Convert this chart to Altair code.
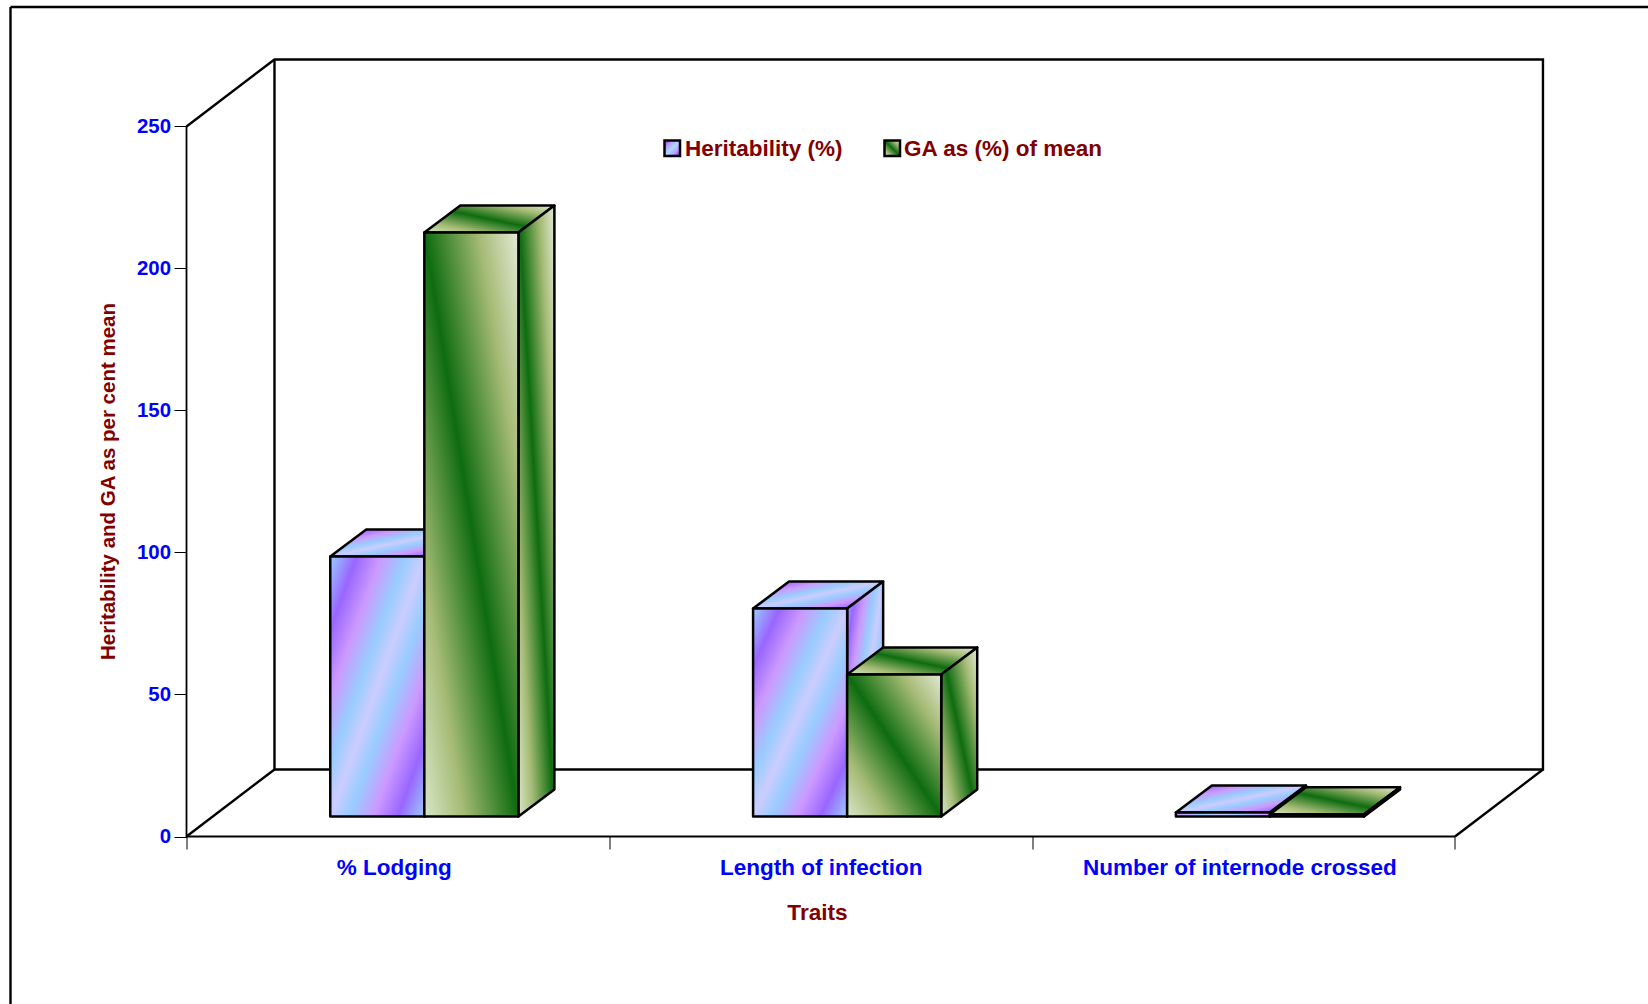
import altair as alt
import pandas as pd

# Chart values
categories = ["% Lodging", "Length of infection", "Number of internode crossed"]
heritability = [91.5, 73.2, 1.4]
ga_percent = [205.6, 50.0, 0.8]
y_ticks = [0, 50, 100, 150, 200, 250]
x_ticks = [0, 0.49, 1, 1.5, 2, 2.49, 3]
label_positions = [0.49, 1.5, 2.49]
series_names = ["Heritability (%)", "GA as (%) of mean"]

# Oblique projection, in axis units (categories across, percent up)
WALL_DX, WALL_DY = 0.2081, 23.6
BAR_DX, BAR_DY = 0.0851, 9.5
BAR_SHIFT, BAR_LIFT = 0.0625, 7.07
BAR_WIDTH = 0.2225

FONT = "Liberation Sans"
MAROON = "#800000"
BLUE = "#0000ff"

GREEN_STOPS = [
    alt.GradientStop(offset=0, color="#d8e6c8"),
    alt.GradientStop(offset=0.21, color="#a6bb76"),
    alt.GradientStop(offset=0.5, color="#0e6c10"),
    alt.GradientStop(offset=0.79, color="#a6bb76"),
    alt.GradientStop(offset=1, color="#e2ead6"),
]
PURPLE_STOPS = [
    alt.GradientStop(offset=0, color="#99ccff"),
    alt.GradientStop(offset=0.14, color="#9966ff"),
    alt.GradientStop(offset=0.27, color="#cc99ff"),
    alt.GradientStop(offset=0.4, color="#99ccff"),
    alt.GradientStop(offset=0.5, color="#ccccff"),
    alt.GradientStop(offset=0.6, color="#99ccff"),
    alt.GradientStop(offset=0.73, color="#cc99ff"),
    alt.GradientStop(offset=0.86, color="#9966ff"),
    alt.GradientStop(offset=1, color="#99ccff"),
]
green_fill = alt.Gradient(gradient="linear", x1=0, y1=1, x2=1, y2=0, stops=GREEN_STOPS)
purple_fill = alt.Gradient(gradient="linear", x1=0, y1=0, x2=1, y2=1, stops=PURPLE_STOPS)

x_scale = alt.Scale(domain=[0, 3.2082], nice=False, zero=False)
y_scale = alt.Scale(domain=[0, 273.76], nice=False, zero=False)

# Real axes carry the ticks, tick labels and titles
label_expr = " : ".join(
    f"datum.value === {p} ? '{c}'" for p, c in zip(label_positions, categories)
) + " : ''"
x_axis = alt.Axis(
    values=x_ticks, title="Traits", domain=False, grid=False,
    tickColor="black", tickSize=12.5, tickWidth=1,
    tickOpacity={"condition": {"test": "datum.value % 1 === 0", "value": 1}, "value": 0},
    labelExpr=label_expr, labelFont=FONT, labelFontSize=22.5, labelFontWeight="bold",
    labelColor=BLUE, labelPadding=7, labelOverlap=False, labelBound=False, labelFlush=False,
    labelLimit=600,
    titleFont=FONT, titleFontSize=22.6, titleFontWeight="bold", titleColor=MAROON,
    titleX=630.5, titleY=75.5, titleBaseline="middle",
)
y_axis = alt.Axis(
    values=y_ticks, title="Heritability and GA as per cent mean", domain=False, grid=False,
    tickColor="black", tickSize=12.5, tickWidth=1,
    labelFont=FONT, labelFontSize=20.4, labelFontWeight="bold", labelColor=BLUE,
    labelPadding=3.5, labelOverlap=False, labelBound=False, labelFlush=False,
    titleFont=FONT, titleFontSize=20.5, titleFontWeight="bold", titleColor=MAROON,
    titleX=-78.5, titleY=422, titleBaseline="middle", titleLimit=600,
)


def qx(field="x"):
    return alt.X(field, type="quantitative", scale=x_scale, axis=x_axis)


def qy(field="y"):
    return alt.Y(field, type="quantitative", scale=y_scale, axis=y_axis)


# Frame of the box: left wall, back wall and floor
frame_paths = [
    [(0, 250), (WALL_DX, 250 + WALL_DY), (3 + WALL_DX, 250 + WALL_DY), (3 + WALL_DX, WALL_DY),
     (WALL_DX, WALL_DY), (WALL_DX, 250 + WALL_DY)],
    [(0, 0), (WALL_DX, WALL_DY)],
    [(3, 0), (3 + WALL_DX, WALL_DY)],
]
frame_rows = [
    {"path": i, "step": j, "x": px, "y": py}
    for i, path in enumerate(frame_paths)
    for j, (px, py) in enumerate(path)
]
frame = alt.Chart(pd.DataFrame(frame_rows)).mark_line(color="black", strokeWidth=2.4).encode(
    x=qx(), y=qy(), detail="path:N", order="step:Q"
)
front_rows = [
    {"path": 0, "step": 0, "x": 0, "y": 250},
    {"path": 0, "step": 1, "x": 0, "y": 0},
    {"path": 0, "step": 2, "x": 3, "y": 0},
]
front_edges = alt.Chart(pd.DataFrame(front_rows)).mark_line(color="black", strokeWidth=1.8).encode(
    x=qx(), y=qy(), detail="path:N", order="step:Q"
)


def bar_faces(values, series_index, fill):
    """Top, side and front faces of one series of oblique bars."""
    top_rows, side_rows, front = [], [], []
    for cat, value in enumerate(values):
        left = cat + 0.5 + BAR_SHIFT + (series_index - 1) * BAR_WIDTH
        right = left + BAR_WIDTH
        top = BAR_LIFT + value
        top_rows += [
            {"bar": cat, "y": top, "x": left, "x2": right},
            {"bar": cat, "y": top + BAR_DY, "x": left + BAR_DX, "x2": right + BAR_DX},
        ]
        side_rows += [
            {"bar": cat, "x": right, "y": top, "y2": BAR_LIFT},
            {"bar": cat, "x": right + BAR_DX, "y": top + BAR_DY, "y2": BAR_LIFT + BAR_DY},
        ]
        front.append({"x": left, "x2": right, "y": top, "y2": BAR_LIFT})
    style = dict(fill=fill, stroke="black", strokeWidth=2.5, strokeJoin="round")
    top_face = alt.Chart(pd.DataFrame(top_rows)).mark_area(orient="horizontal", **style).encode(
        y=qy(), x=qx(), x2="x2:Q", detail="bar:N"
    )
    side_face = alt.Chart(pd.DataFrame(side_rows)).mark_area(orient="vertical", **style).encode(
        x=qx(), y=qy(), y2="y2:Q", detail="bar:N"
    )
    front_face = alt.Chart(pd.DataFrame(front)).mark_rect(**style).encode(
        x=qx(), x2="x2:Q", y=qy(), y2="y2:Q"
    )
    return [top_face, side_face, front_face]


# Legend drawn inside the plot, with the same gradient fills
def legend_entry(name, fill, left, text_left):
    one = pd.DataFrame({"name": [name]})
    swatch = alt.Chart(one).mark_rect(fill=fill, stroke="black", strokeWidth=2.5).encode(
        x=alt.value(left), x2=alt.value(left + 15.5), y=alt.value(81.5), y2=alt.value(97)
    )
    text = alt.Chart(one).mark_text(
        align="left", baseline="middle", font=FONT, fontSize=22.5, fontWeight="bold", color=MAROON
    ).encode(x=alt.value(text_left), y=alt.value(90), text="name:N")
    return [swatch, text]


# Outer border, running off the top right and bottom left of the page
border = alt.Chart(pd.DataFrame({"a": [0]}))
border_top = border.mark_rule(color="black", strokeWidth=2.4).encode(
    x=alt.value(-176), x2=alt.value(1462), y=alt.value(-52)
)
border_left = border.mark_rule(color="black", strokeWidth=2.4).encode(
    x=alt.value(-176), y=alt.value(-52), y2=alt.value(945)
)

layers = (
    [border_top, border_left, frame, front_edges]
    + bar_faces(heritability, 0, purple_fill)
    + bar_faces(ga_percent, 1, green_fill)
    + legend_entry(series_names[0], purple_fill, 478, 498.5)
    + legend_entry(series_names[1], green_fill, 698, 717.5)
)

chart = alt.layer(*layers).properties(
    width=1356.5,
    height=777.5,
    padding={"left": 186.5, "top": 59, "right": 105, "bottom": 167.5},
    autosize=alt.AutoSizeParams(type="none"),
    background="white",
).configure_view(stroke=None)

chart.save("out.html", embed_options={"renderer": "svg", "actions": False})
